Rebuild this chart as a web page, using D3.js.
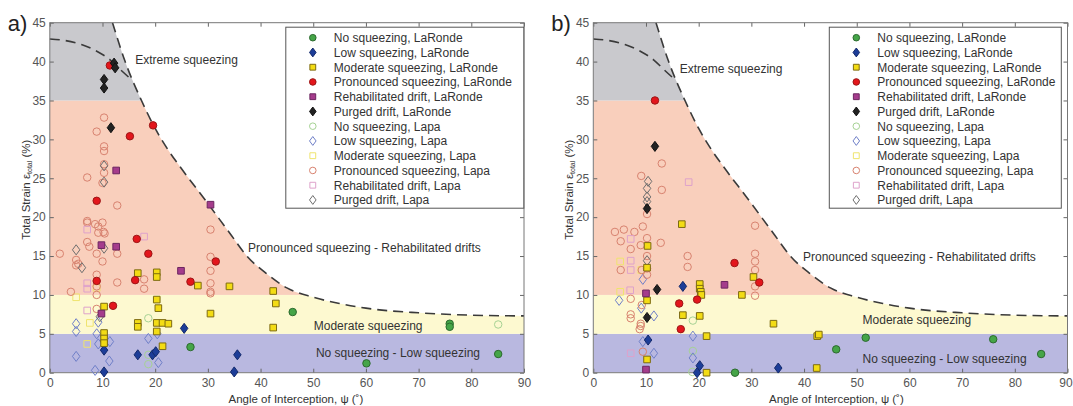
<!DOCTYPE html>
<html>
<head>
<meta charset="utf-8">
<script src="https://cdn.jsdelivr.net/npm/d3@7"></script>
<style>
  body { margin: 0; background: #fff; }
  svg { font-family: "Liberation Sans", Arial, sans-serif; }
</style>
</head>
<body>
<svg id="chart" width="1073" height="406"></svg>
<script>
// ---- data ----
var xTicks = [0, 10, 20, 30, 40, 50, 60, 70, 80, 90];
var yTicks = [0, 5, 10, 15, 20, 25, 30, 35, 40, 45];
var zoneLimits = [0, 5, 10, 35, 45];
var zoneNames = ["No squeezing - Low squeezing", "Moderate squeezing",
                 "Pronounced squeezing - Rehabilitated drifts", "Extreme squeezing"];
var seriesNames = [
  "No squeezing, LaRonde", "Low squeezing, LaRonde", "Moderate squeezing, LaRonde",
  "Pronounced squeezing, LaRonde", "Rehabilitated drift, LaRonde", "Purged drift, LaRonde",
  "No squeezing, Lapa", "Low squeezing, Lapa", "Moderate squeezing, Lapa",
  "Pronounced squeezing, Lapa", "Rehabilitated drift, Lapa", "Purged drift, Lapa"
];

// dashed boundaries [angle, strain]
var boundaryCurve = [[11.9, 45], [14.3, 40], [17.4, 35], [20.0, 31.4], [22.5, 28.6], [24.7, 26.5],
  [29.5, 22.2], [34.2, 17.9], [37.4, 15.0], [41.2, 12.7], [45, 10.9], [50, 9.7], [55, 8.9],
  [60, 8.3], [70, 7.7], [80, 7.4], [90, 7.3]];
var innerCurve = [[0, 42.9], [3, 42.7], [6, 42.2], [9, 41.3], [11.5, 40.2], [13.5, 38.9], [15.3, 37.8]];

// panel a)
var a_noLaRonde = [[26.7, 3.3], [46.1, 7.8], [75.9, 6.3], [75.9, 5.9], [85.1, 2.4], [60.1, 1.2]];
var a_lowLaRonde = [[10.3, 2.9], [10.3, 0.1], [16.7, 2.3], [19.5, 2.3], [20.1, 2.7], [25.5, 5.7],
  [35.6, 2.3], [35.0, 0.1]];
var a_modLaRonde = [[16.7, 12.8], [20.3, 12.9], [20.3, 12.3], [28.1, 11.2], [34.1, 11.1], [42.4, 10.5],
  [42.9, 8.9], [42.4, 5.8], [10.3, 8.5], [20.3, 9.4], [20.6, 8.3], [16.7, 6.4], [16.7, 5.9],
  [20.3, 6.4], [21.4, 6.4], [22.5, 6.3], [20.3, 5.3], [30.5, 7.6], [10.3, 5.1], [10.3, 4.4],
  [10.3, 3.8], [21.4, 3.4]];
var a_proLaRonde = [[11.4, 39.5], [15.2, 30.4], [19.6, 31.8], [8.9, 22.1], [16.5, 17.2], [18.7, 15.3],
  [31.5, 14.3], [8.9, 11.8], [16.2, 11.9], [26.7, 11.7], [12.0, 8.6]];
var a_rehLaRonde = [[12.6, 26.0], [30.5, 21.6], [9.8, 16.4], [12.6, 16.2], [24.9, 13.1], [9.8, 7.6]];
var a_purLaRonde = [[12.2, 39.8], [12.4, 39.2], [10.3, 37.7], [10.3, 36.6], [11.6, 31.5]];
var a_noLapa = [[18.7, 7.0], [18.7, 2.3], [18.7, 1.1], [85.1, 6.2]];
var a_lowLapa = [[5.0, 6.3], [5.0, 5.3], [9.2, 6.5], [8.9, 5.0], [9.2, 3.7], [11.4, 4.0], [5.0, 2.1],
  [11.3, 1.5], [8.6, 0.3], [18.7, 4.4], [20.4, 5.0], [20.6, 1.3]];
var a_modLapa = [[5.0, 9.7], [7.6, 6.4], [8.9, 10.9], [7.1, 3.7]];
var a_proLapa = [[10.3, 32.8], [8.9, 31.0], [10.3, 29.1], [10.3, 28.5], [10.3, 26.8], [10.3, 25.7],
  [7.1, 25.1], [10.0, 24.4], [12.8, 21.5], [7.1, 19.5], [7.1, 19.3], [8.6, 19.1], [10.0, 19.3],
  [9.2, 18.8], [10.2, 18.1], [10.4, 17.9], [9.2, 18.0], [30.5, 18.4], [7.1, 16.8], [7.5, 16.2],
  [8.9, 15.3], [10.0, 14.3], [12.8, 15.3], [1.9, 15.3], [5.0, 14.5], [5.4, 14.0], [5.0, 13.8],
  [30.5, 14.9], [30.5, 13.1], [30.5, 11.5], [30.5, 10.4], [30.5, 10.2], [8.9, 12.6], [12.8, 11.6],
  [17.9, 12.0], [17.9, 10.8], [4.0, 10.4], [8.9, 11.1], [8.9, 10.0], [8.9, 8.2]];
var a_rehLapa = [[17.9, 17.5], [7.1, 18.4], [7.1, 11.5], [7.1, 10.8], [7.1, 8.0]];
var a_purLapa = [[10.3, 26.6], [10.3, 24.5], [10.3, 16.0], [5.0, 15.8], [6.1, 13.5], [9.5, 7.2]];

// panel b)
var b_noLaRonde = [[26.9, 0.0], [46.1, 3.0], [51.7, 4.5], [75.9, 4.3], [85.0, 2.4]];
var b_lowLaRonde = [[17.0, 11.1], [10.4, 4.2], [20.2, 0.9], [19.7, 0.0], [35.1, 0.6]];
var b_modLaRonde = [[16.8, 19.1], [10.3, 16.3], [10.2, 13.5], [10.2, 9.3], [20.2, 11.4], [20.2, 10.8],
  [20.4, 10.4], [20.5, 10.0], [28.2, 10.0], [30.4, 12.3], [17.0, 7.4], [20.2, 7.3], [34.2, 6.3],
  [21.5, 4.7], [10.2, 1.7], [21.5, 0.0], [42.5, 4.7], [42.8, 4.9], [42.4, 0.6]];
var b_proLaRonde = [[11.7, 35.0], [26.8, 14.1], [31.5, 11.6], [16.3, 8.9], [19.7, 9.4], [16.6, 5.6]];
var b_rehLaRonde = [[10.0, 10.2], [24.9, 11.3], [10.0, 0.4]];
var b_purLaRonde = [[11.7, 29.1], [10.2, 21.1], [12.1, 10.7], [10.2, 7.1]];
var b_noLapa = [[18.9, 6.7], [18.9, 2.8], [18.8, 0.1]];
var b_lowLapa = [[4.9, 9.3], [9.4, 12.0], [9.1, 8.3], [11.5, 7.3], [9.4, 4.0], [11.5, 2.5],
  [18.9, 4.7], [18.9, 1.9]];
var b_modLapa = [[5.1, 14.3], [5.1, 10.4], [9.1, 13.2]];
var b_proLapa = [[13.0, 26.9], [9.1, 25.3], [13.0, 23.5], [10.2, 20.4], [30.7, 18.9], [9.4, 18.8],
  [10.2, 17.3], [12.8, 16.7], [17.9, 15.0], [17.9, 13.6], [30.7, 15.3], [30.7, 14.3], [30.7, 13.2],
  [30.7, 11.1], [30.7, 9.9], [4.1, 18.1], [5.8, 18.4], [7.8, 18.1], [5.2, 16.9], [7.1, 15.9],
  [9.0, 16.4], [10.2, 15.0], [10.2, 13.4], [10.2, 12.6], [5.2, 13.2], [9.2, 13.2], [7.1, 9.5],
  [7.1, 7.5], [7.1, 7.0], [9.2, 8.7], [9.0, 6.3], [9.0, 6.0], [8.8, 5.6], [9.4, 2.7]];
var b_rehLapa = [[18.1, 24.5], [7.1, 17.2], [7.1, 14.4], [7.1, 13.2], [7.0, 10.6], [7.1, 2.5]];
var b_purLapa = [[10.4, 24.6], [10.2, 23.7], [10.2, 22.6], [10.2, 22.0], [10.2, 14.4]];

// ---- styles ----
var zoneColors = ["#b9b8e0", "#fdf9d0", "#f9cfbc", "#c9c9cd"];

var diamond = {
  draw: function(ctx, size) {
    var h = Math.sqrt(size) * 0.76, w = h * 0.74;
    ctx.moveTo(0, -h); ctx.lineTo(w, 0); ctx.lineTo(0, h); ctx.lineTo(-w, 0); ctx.closePath();
  }
};
var markerStyles = [
  {type: d3.symbolCircle, fill: "#45a548", stroke: "#2c6a2f"},
  {type: diamond, fill: "#1c3d98", stroke: "#13296b"},
  {type: d3.symbolSquare, fill: "#f3dc14", stroke: "#7d6b12"},
  {type: d3.symbolCircle, fill: "#e3161c", stroke: "#9c1616"},
  {type: d3.symbolSquare, fill: "#a53c8c", stroke: "#6c2660"},
  {type: diamond, fill: "#222", stroke: "#111"},
  {type: d3.symbolCircle, fill: "none", stroke: "#a6d294"},
  {type: diamond, fill: "none", stroke: "#6f7fc8"},
  {type: d3.symbolSquare, fill: "none", stroke: "#efe46e"},
  {type: d3.symbolCircle, fill: "none", stroke: "#d8826f"},
  {type: d3.symbolSquare, fill: "none", stroke: "#dea2cb"},
  {type: diamond, fill: "none", stroke: "#6e6e6e"}
];

var panels = [
  {id: "a", tag: "a)", left: 49.8, top: 22.7,
   series: [a_noLaRonde, a_lowLaRonde, a_modLaRonde, a_proLaRonde, a_rehLaRonde, a_purLaRonde,
            a_noLapa, a_lowLapa, a_modLapa, a_proLapa, a_rehLapa, a_purLapa],
   zoneLabelPos: [[50.5, 2.0], [50.1, 5.5], [37.6, 15.5], [16.2, 39.7]],
   legendW: 238, xLabelShift: 9, lastTickDx: 0},
  {id: "b", tag: "b)", left: 593.3, top: 22.7,
   series: [b_noLaRonde, b_lowLaRonde, b_modLaRonde, b_proLaRonde, b_rehLaRonde, b_purLaRonde,
            b_noLapa, b_lowLapa, b_modLapa, b_proLapa, b_rehLapa, b_purLapa],
   zoneLabelPos: [[51.1, 1.2], [51.1, 6.3], [39.8, 14.4], [16.4, 38.5]],
   legendW: 232, xLabelShift: 6, lastTickDx: -2}
];

var width = 474.2, height = 350;
var svg = d3.select("#chart");

panels.forEach(function(p) {
  var x = d3.scaleLinear().domain([0, 90]).range([0, width]);
  var y = d3.scaleLinear().domain([0, 45]).range([height, 0]);

  var g = svg.append("g").attr("transform", "translate(" + p.left + "," + p.top + ")");

  var line = d3.line()
    .x(function(d) { return x(d[0]); })
    .y(function(d) { return y(d[1]); })
    .curve(d3.curveMonotoneX);

  // region under the boundary curve
  var under = "M" + x(0) + "," + y(45) + "L" + line(boundaryCurve).slice(1) +
              "L" + x(90) + "," + y(0) + "L" + x(0) + "," + y(0) + "Z";
  g.append("clipPath").attr("id", "clip-" + p.id)
    .append("path").attr("d", under);

  g.append("g").attr("clip-path", "url(#clip-" + p.id + ")")
    .selectAll("rect")
    .data(d3.range(zoneLimits.length - 1))
    .join("rect")
      .attr("x", 0)
      .attr("width", width)
      .attr("y", function(i) { return y(zoneLimits[i + 1]); })
      .attr("height", function(i) { return y(zoneLimits[i]) - y(zoneLimits[i + 1]); })
      .attr("fill", function(i) { return zoneColors[i]; });

  // dashed boundaries
  g.append("path").attr("d", line(boundaryCurve))
    .attr("fill", "none").attr("stroke", "#3a3a3a")
    .attr("stroke-width", 1.6).attr("stroke-dasharray", "10,6");
  g.append("path").attr("d", line(innerCurve))
    .attr("fill", "none").attr("stroke", "#3a3a3a")
    .attr("stroke-width", 1.6).attr("stroke-dasharray", "10,6");

  // zone labels
  g.selectAll("text.zone")
    .data(zoneNames)
    .join("text")
      .attr("class", "zone")
      .attr("x", function(d, i) { return x(p.zoneLabelPos[i][0]); })
      .attr("y", function(d, i) { return y(p.zoneLabelPos[i][1]); })
      .attr("font-size", 12)
      .attr("fill", "#333")
      .text(function(d) { return d; });

  // axes, ticks inward on all four sides
  function styleAxis(sel) {
    sel.select(".domain").remove();
    sel.selectAll("line").attr("stroke", "#666");
    sel.selectAll("text").attr("fill", "#555").attr("font-size", 12)
      .attr("font-family", "Liberation Sans, Arial, sans-serif");
  }
  var xAxis = g.append("g").attr("transform", "translate(0," + height + ")")
    .call(d3.axisBottom(x).tickValues(xTicks).tickSize(-4).tickPadding(6)).call(styleAxis);
  xAxis.selectAll("text").filter(function(d) { return d === 90; }).attr("dx", p.lastTickDx);
  g.append("g")
    .call(d3.axisLeft(y).tickValues(yTicks).tickSize(-4).tickPadding(4)).call(styleAxis);
  g.append("g")
    .call(d3.axisTop(x).tickValues(xTicks).tickSize(-4).tickFormat("")).call(styleAxis);
  g.append("g").attr("transform", "translate(" + width + ",0)")
    .call(d3.axisRight(y).tickValues(yTicks).tickSize(-4).tickFormat("")).call(styleAxis);

  g.append("rect").attr("width", width).attr("height", height)
    .attr("fill", "none").attr("stroke", "#777").attr("stroke-width", 1);

  // points: Lapa first, LaRonde on top
  var order = [6, 7, 8, 9, 10, 11, 0, 1, 2, 3, 4, 5];
  order.forEach(function(k) {
    var st = markerStyles[k];
    g.append("g").selectAll("path")
      .data(p.series[k])
      .join("path")
        .attr("transform", function(d) { return "translate(" + x(d[0]) + "," + y(d[1]) + ")"; })
        .attr("d", d3.symbol().type(st.type).size(44))
        .attr("fill", st.fill)
        .attr("stroke", st.stroke)
        .attr("stroke-width", 1);
  });

  // legend
  var lg = g.append("g").attr("transform", "translate(236,4.5)");
  lg.append("rect").attr("width", p.legendW).attr("height", 181)
    .attr("fill", "#fff").attr("stroke", "#555");
  var rows = lg.selectAll("g.row")
    .data(seriesNames)
    .join("g")
      .attr("class", "row")
      .attr("transform", function(d, i) { return "translate(0," + (10.5 + i * 14.75) + ")"; });
  rows.append("path")
    .attr("transform", "translate(27,0)")
    .attr("d", function(d, i) { return d3.symbol().type(markerStyles[i].type).size(34)(); })
    .attr("fill", function(d, i) { return markerStyles[i].fill; })
    .attr("stroke", function(d, i) { return markerStyles[i].stroke; });
  rows.append("text")
    .attr("x", 48).attr("dy", "0.36em")
    .attr("font-size", 12).attr("fill", "#333")
    .text(function(d) { return d; });

  // axis titles
  g.append("text")
    .attr("x", width / 2 + p.xLabelShift).attr("y", height + 30)
    .attr("text-anchor", "middle").attr("font-size", 11.5).attr("fill", "#333")
    .text("Angle of Interception, \u03C8 (\u02DA)");

  var yl = g.append("text")
    .attr("transform", "translate(-20," + (height / 2 - 8) + ") rotate(-90)")
    .attr("text-anchor", "middle").attr("font-size", 11.5).attr("fill", "#333");
  yl.append("tspan").text("Total Strain \u03B5");
  yl.append("tspan").attr("font-size", 7).attr("dy", 2).text("total");
  yl.append("tspan").attr("dy", -2).text(" (%)");

  // panel tag
  svg.append("text")
    .attr("x", p.left - 42).attr("y", 31)
    .attr("font-size", 22).attr("fill", "#222")
    .text(p.tag);
});
</script>
</body>
</html>
